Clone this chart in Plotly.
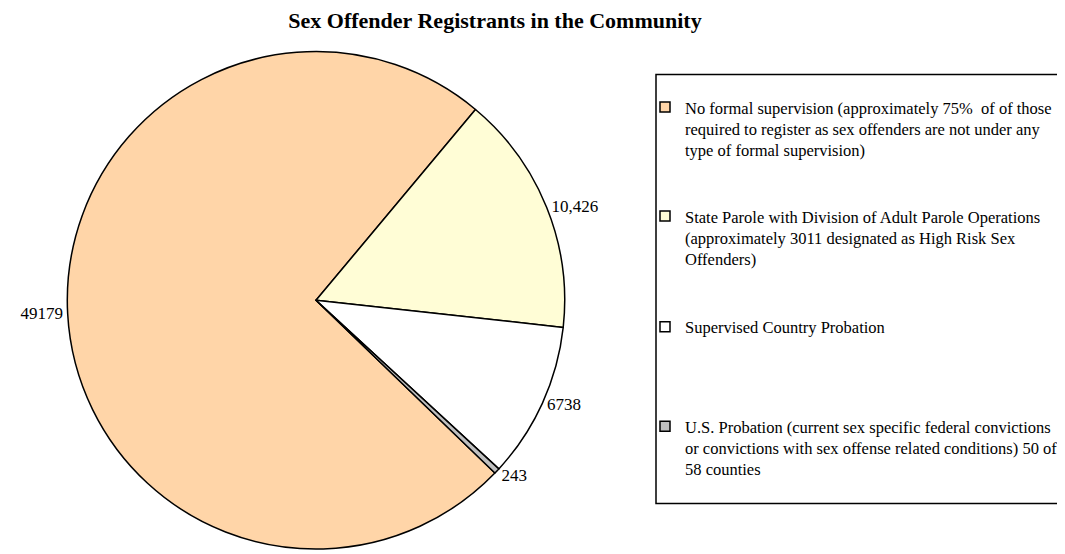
import plotly.graph_objects as go

# slice data (clockwise from the orange slice)
categorias = [
    "No formal supervision (approximately 75%  of of those<br>required to register as sex offenders are not under any<br>type of formal supervision)",
    "State Parole with Division of Adult Parole Operations<br>(approximately 3011 designated as High Risk Sex<br>Offenders)",
    "Supervised Country Probation",
    "U.S. Probation (current sex specific federal convictions<br>or convictions with sex offense related conditions) 50 of<br>58 counties",
]
valores = [49179, 10426, 6738, 243]
rotulos = ["49179", "10,426", "6738", "243"]
cores = ["#FFD5A8", "#FFFDD6", "#FFFFFF", "#C0C0C0"]

# the page adds an 8px body margin, so the figure is drawn 8px smaller
W, H = 1057, 546
fonte = "Liberation Serif, Times New Roman, serif"

fig = go.Figure()

cx, cy, r = 308, 295, 251
fig.add_trace(go.Pie(
    labels=categorias,
    values=valores,
    text=rotulos,
    textinfo="text",
    textposition="outside",
    sort=False,
    direction="clockwise",
    rotation=134,
    marker=dict(colors=cores, line=dict(color="black", width=1.5)),
    textfont=dict(family=fonte, size=17, color="black"),
    showlegend=False,
    hoverinfo="label+value",
    domain=dict(x=[(cx - r) / W, (cx + r) / W], y=[0, 2 * r / H]),
))

# legend entries, each in its own legend so they can be spaced like the original
centros = [122, 232, 322, 444]  # pixel y of each entry's middle
for i, (cat, cor) in enumerate(zip(categorias, cores)):
    nome = "legend" if i == 0 else f"legend{i + 1}"
    fig.add_trace(go.Scatter(
        x=[None], y=[None], mode="markers", name=cat,
        marker=dict(symbol="square", size=10, color=cor,
                    line=dict(color="black", width=1.5)),
        legend=nome, showlegend=True,
    ))
    fig.update_layout({nome: dict(
        x=637 / W, xanchor="left",
        y=1 - centros[i] / H, yanchor="middle",
        bgcolor="rgba(0,0,0,0)", borderwidth=0,
        font=dict(family=fonte, size=16.5, color="black"),
        valign="top",
    )})

# legend frame (right side runs off the page)
x0, x1 = 648 / W, 1.1
y0, y1 = 1 - 500 / H, 1 - 67 / H
fig.add_shape(type="path", xref="paper", yref="paper",
              path=f"M {x1},{y1} L {x0},{y1} L {x0},{y0} L {x1},{y0}",
              line=dict(color="black", width=1.5), layer="below")

fig.update_layout(
    width=W, height=H,
    margin=dict(l=0, r=0, t=0, b=0),
    paper_bgcolor="white",
    plot_bgcolor="white",
    title=dict(text="<b>Sex Offender Registrants in the Community</b>",
               x=487 / W, xanchor="center", y=1 - 12 / H, yanchor="middle",
               font=dict(family=fonte, size=22, color="black")),
    xaxis=dict(visible=False),
    yaxis=dict(visible=False),
)

fig.write_html("out.html")
